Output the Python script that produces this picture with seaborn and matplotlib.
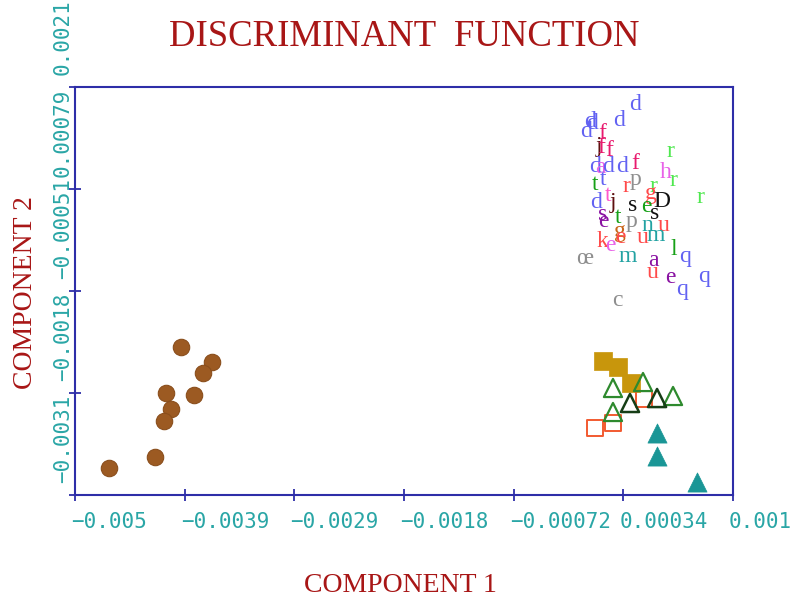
import matplotlib
matplotlib.use("Agg")
import matplotlib.pyplot as plt
import matplotlib.transforms as mtransforms
import seaborn as sns

# ---------------- data ----------------
# brown filled circles
circ_x = [-0.003966, -0.003663, -0.003751, -0.004112, -0.003839, -0.004063, -0.004132, -0.004219, -0.004668]
circ_y = [-0.001214, -0.001405, -0.001545, -0.001800, -0.001825, -0.002004, -0.002157, -0.002616, -0.002756]
# gold filled squares
gsq_x = [0.000152, 0.000298, 0.000425]
gsq_y = [-0.001392, -0.001469, -0.001673]
# red open squares
rsq_x = [0.000074, 0.000249, 0.000552]
rsq_y = [-0.002246, -0.002182, -0.001876]
# green open triangles (light)
gtri_x = [0.000249, 0.000542, 0.000835, 0.000249]
gtri_y = [-0.001736, -0.001660, -0.001838, -0.002042]
# green open triangles (dark)
dtri_x = [0.000415, 0.000679]
dtri_y = [-0.001927, -0.001864]
# teal filled triangles
ttri_x = [0.000679, 0.000679, 0.001069]
ttri_y = [-0.002310, -0.002603, -0.002934]

# letter-labelled points
letters = ["d", "d", "d", "d", "d", "f", "j", "f", "f", "r",
           "d", "a", "d", "d", "f", "h", "r", "r", "t", "t",
           "r", "p", "r", "g", "D", "s", "e", "s", "j", "d",
           "t", "s", "e", "t", "p", "n", "u", "g", "e", "u",
           "m", "k", "e", "l", "q", "m", "œ", "a", "u", "e",
           "q", "q", "c"]
letter_x = [0.000463, 0.000307, 0.000024, 0.000044, -0.000015, 0.000142, 0.000112, 0.000132, 0.000210, 0.000805,
            0.000073, 0.000122, 0.000200, 0.000337, 0.000463, 0.000766, 0.000834, 0.001098, 0.000073, 0.000151,
            0.000385, 0.000473, 0.000639, 0.000620, 0.000727, 0.000444, 0.000571, 0.000659, 0.000249, 0.000083,
            0.000200, 0.000151, 0.000151, 0.000298, 0.000434, 0.000580, 0.000746, 0.000317, 0.000317, 0.000541,
            0.000668, 0.000151, 0.000220, 0.000844, 0.000951, 0.000395, -0.000024, 0.000639, 0.000639, 0.000805,
            0.001137, 0.000922, 0.000288]
letter_y = [0.001871, 0.001667, 0.001654, 0.001629, 0.001527, 0.001501, 0.001348, 0.001323, 0.001285, 0.001272,
            0.001081, 0.001068, 0.001093, 0.001093, 0.001119, 0.001004, 0.000902, 0.000698, 0.000851, 0.000915,
            0.000826, 0.000915, 0.000826, 0.000737, 0.000635, 0.000596, 0.000571, 0.000494, 0.000622, 0.000622,
            0.000711, 0.000469, 0.000392, 0.000443, 0.000392, 0.000329, 0.000329, 0.000252, 0.000176, 0.000188,
            0.000201, 0.000125, 0.000074, 0.000023, -0.000054, -0.000054, -0.000092, -0.000105, -0.000258, -0.000334,
            -0.000309, -0.000487, -0.000615]
letter_group = ["blue", "blue", "blue", "blue", "blue", "crimson", "darkred", "crimson", "crimson", "lightgreen",
                "blue", "violet", "blue", "blue", "crimson", "violet", "lightgreen", "lightgreen", "green", "blue",
                "red", "gray", "lightgreen", "red", "black", "black", "green", "black", "darkred", "blue",
                "pink", "purple", "purple", "green", "gray", "teal", "red", "orange", "red", "red",
                "teal", "red", "violet", "green", "blue", "teal", "gray", "purple", "red", "purple",
                "blue", "blue", "gray"]

x_ticks = [-0.005, -0.00393, -0.00286, -0.00179, -0.00072, 0.00035, 0.00142]
x_ticklabels = ["\u22120.005", "\u22120.0039", "\u22120.0029", "\u22120.0018", "\u22120.00072", "0.00034", "0.001"]
y_ticks = [-0.0031, -0.0018, -0.0005, 0.0008, 0.0021]
y_ticklabels = ["\u22120.0031", "\u22120.0018", "\u22120.00051", "0.00079", "0.0021"]

# ---------------- style ----------------
sns.set_theme(style="white")
plt.rcParams["font.family"] = ["Liberation Serif", "DejaVu Serif"]

letter_colors = {
    "blue": "#6262f2", "crimson": "#e81a6e", "darkred": "#5e1010", "lightgreen": "#4fe84f",
    "green": "#17a017", "violet": "#e862e8", "gray": "#8e8e8e", "black": "#111111",
    "teal": "#22a2a2", "red": "#ff4a4a", "orange": "#c8661a", "purple": "#8a12a2",
    "pink": "#ff58cc",
}
navy = "#2e2ea8"
tick_teal = "#2aa6a6"
title_red = "#a81616"

fig = plt.figure(figsize=(7.96, 6.01), dpi=100)
ax = fig.add_axes([75 / 796, 106 / 601, 658 / 796, 408 / 601])

# markers
sns.scatterplot(x=circ_x, y=circ_y, ax=ax, marker="o", s=140, color="#9c5a22",
                edgecolor="#8a4e1c", linewidth=0.8, legend=False)
sns.scatterplot(x=gsq_x, y=gsq_y, ax=ax, marker="s", s=160, color="#c8960c",
                edgecolor="#c8960c", linewidth=0.5, legend=False)
sns.scatterplot(x=rsq_x, y=rsq_y, ax=ax, marker="s", s=140, facecolor="none",
                edgecolor="#f25a30", linewidth=1.4, legend=False)
sns.scatterplot(x=gtri_x, y=gtri_y, ax=ax, marker="^", s=170, facecolor="none",
                edgecolor="#2e8a2e", linewidth=1.6, legend=False)
sns.scatterplot(x=dtri_x, y=dtri_y, ax=ax, marker="^", s=170, facecolor="none",
                edgecolor="#163e16", linewidth=1.8, legend=False)
sns.scatterplot(x=ttri_x, y=ttri_y, ax=ax, marker="^", s=190, color="#1a9696",
                edgecolor="#1a9696", linewidth=0.5, legend=False)

for lab, lx, ly, grp in zip(letters, letter_x, letter_y, letter_group):
    ax.text(lx, ly, lab, color=letter_colors[grp], fontsize=17, ha="center", va="center",
            family=["Liberation Serif", "DejaVu Serif"])

ax.set_xlim(x_ticks[0], x_ticks[-1])
ax.set_ylim(y_ticks[0], y_ticks[-1])
ax.set_xticks(x_ticks)
ax.set_yticks(y_ticks)
ax.set_xticklabels(x_ticklabels, family="DejaVu Sans Mono", fontsize=15, color=tick_teal, ha="left")
ax.set_yticklabels(y_ticklabels, family="DejaVu Sans Mono", fontsize=15, color=tick_teal,
                   rotation=90, va="bottom")
ax.tick_params(axis="both", which="major", direction="inout", length=9, width=1.3,
               color=navy, bottom=True, left=True, top=False, right=False)
ax.tick_params(axis="x", pad=8)
ax.tick_params(axis="y", pad=-3)
for lbl in ax.get_yticklabels():
    lbl.set_transform(lbl.get_transform() + mtransforms.ScaledTranslation(0, 12 / 100, fig.dpi_scale_trans))
for lbl in ax.get_xticklabels():
    lbl.set_transform(lbl.get_transform() + mtransforms.ScaledTranslation(-4 / 100, 0, fig.dpi_scale_trans))
for sp in ax.spines.values():
    sp.set_color(navy)
    sp.set_linewidth(1.5)
ax.grid(False)
ax.set_xlabel("")
ax.set_ylabel("")

fig.text(404 / 796, 1 - 37 / 601, "DISCRIMINANT  FUNCTION", color=title_red, fontsize=26.5,
         ha="center", va="center")
fig.text(400 / 796, 1 - 585 / 601, "COMPONENT 1", color=title_red, fontsize=20,
         ha="center", va="center")
fig.text(26 / 796, 1 - 293 / 601, "COMPONENT 2", color=title_red, fontsize=20,
         ha="center", va="center", rotation=90)

fig.savefig("out.png", dpi=100, facecolor="white")
